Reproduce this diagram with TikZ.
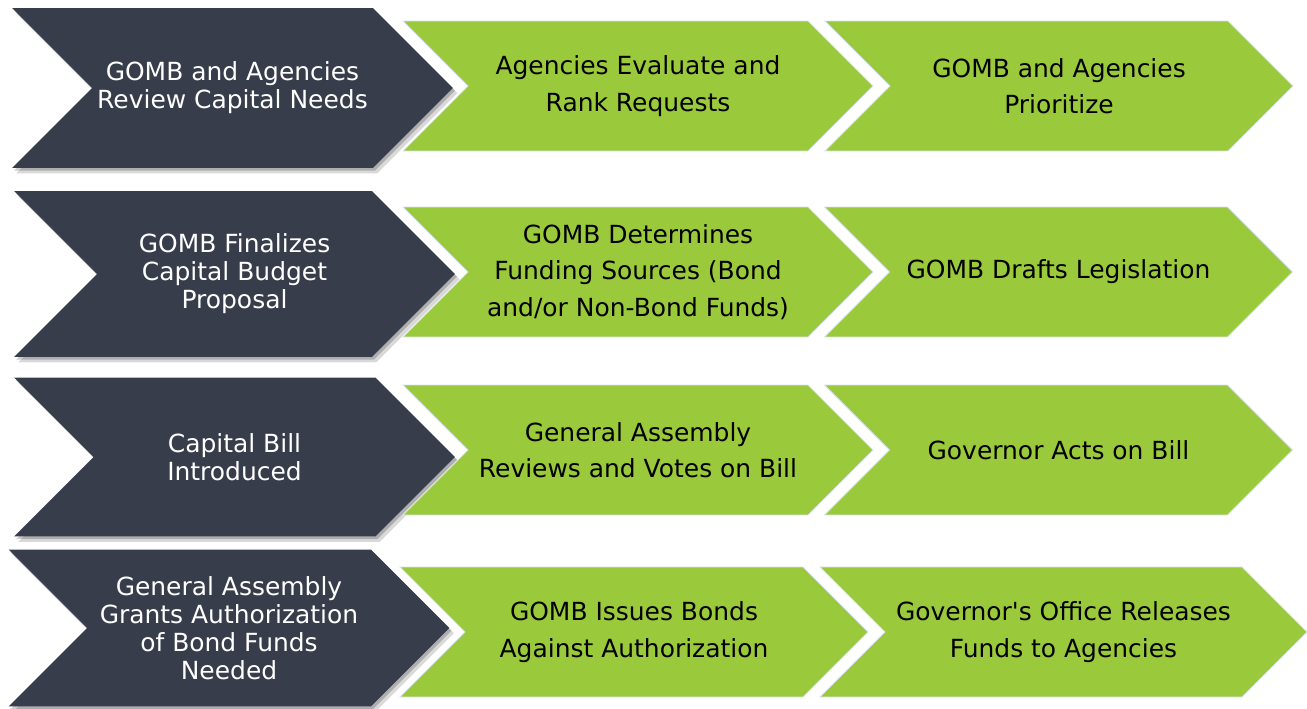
\documentclass[tikz,border=0pt]{standalone}
\usepackage{fontspec}
\setmainfont{DejaVu Sans}
\usetikzlibrary{shapes.symbols,shadows}
\definecolor{slate}{HTML}{373D4A}
\definecolor{leaf}{HTML}{9ACA3C}
\definecolor{rim}{HTML}{D6E0EA}

\begin{document}
\begin{tikzpicture}[x=0.02cm,y=-0.02cm,
    chev/.style={signal, signal from=west, signal to=east, signal pointer angle=90,
      inner sep=0pt, align=center},
    darkchev/.style={chev, fill=slate, text=white, minimum width=8.82cm,
      drop shadow={opacity=0.15, shadow xshift=2.5pt, shadow yshift=-3pt, fill=black},
      drop shadow={opacity=0.2, shadow xshift=1.2pt, shadow yshift=-1.5pt, fill=black},
      font=\fontsize{14.2}{16}\selectfont},
    greenchev/.style={chev, fill=leaf, draw=rim, line width=0.5pt, text=black,
      minimum height=2.6cm, font=\fontsize{14.2}{20.7}\selectfont}] % 12 chevrons
  \useasboundingbox (0,0) rectangle (1307,709);
  % row 1
  \node[darkchev, minimum height=3.2cm] (d1) at (232.5,88) {GOMB and Agencies\\Review Capital Needs};
  \node[greenchev, minimum width=9.4cm] (g1a) at (638,86) {Agencies Evaluate and\\Rank Requests};
  \node[greenchev, minimum width=9.36cm] (g1b) at (1059,86) {GOMB and Agencies\\Prioritize};
  % row 2
  \node[darkchev, minimum height=3.32cm] (d2) at (234.5,274) {GOMB Finalizes\\Capital Budget\\Proposal};
  \node[greenchev, minimum width=9.4cm] (g2a) at (638,272) {GOMB Determines\\Funding Sources (Bond\\and/or Non-Bond Funds)};
  \node[greenchev, minimum width=9.36cm] (g2b) at (1058.5,272) {GOMB Drafts Legislation};
  % row 3
  \node[darkchev, minimum height=3.18cm] (d3) at (234.5,457) {Capital Bill\\Introduced};
  \node[greenchev, minimum width=9.4cm] (g3a) at (638,450) {General Assembly\\Reviews and Votes on Bill};
  \node[greenchev, minimum width=9.36cm] (g3b) at (1058.5,450) {Governor Acts on Bill};
  % row 4
  \node[darkchev, minimum height=3.14cm] (d4) at (229,628) {General Assembly\\Grants Authorization\\of Bond Funds\\Needed};
  \node[greenchev, minimum width=9.36cm] (g4a) at (634,632) {GOMB Issues Bonds\\Against Authorization};
  \node[greenchev, minimum width=9.74cm] (g4b) at (1063.5,632) {Governor\textquotesingle s Office Releases\\Funds to Agencies};
\end{tikzpicture}
\end{document}
